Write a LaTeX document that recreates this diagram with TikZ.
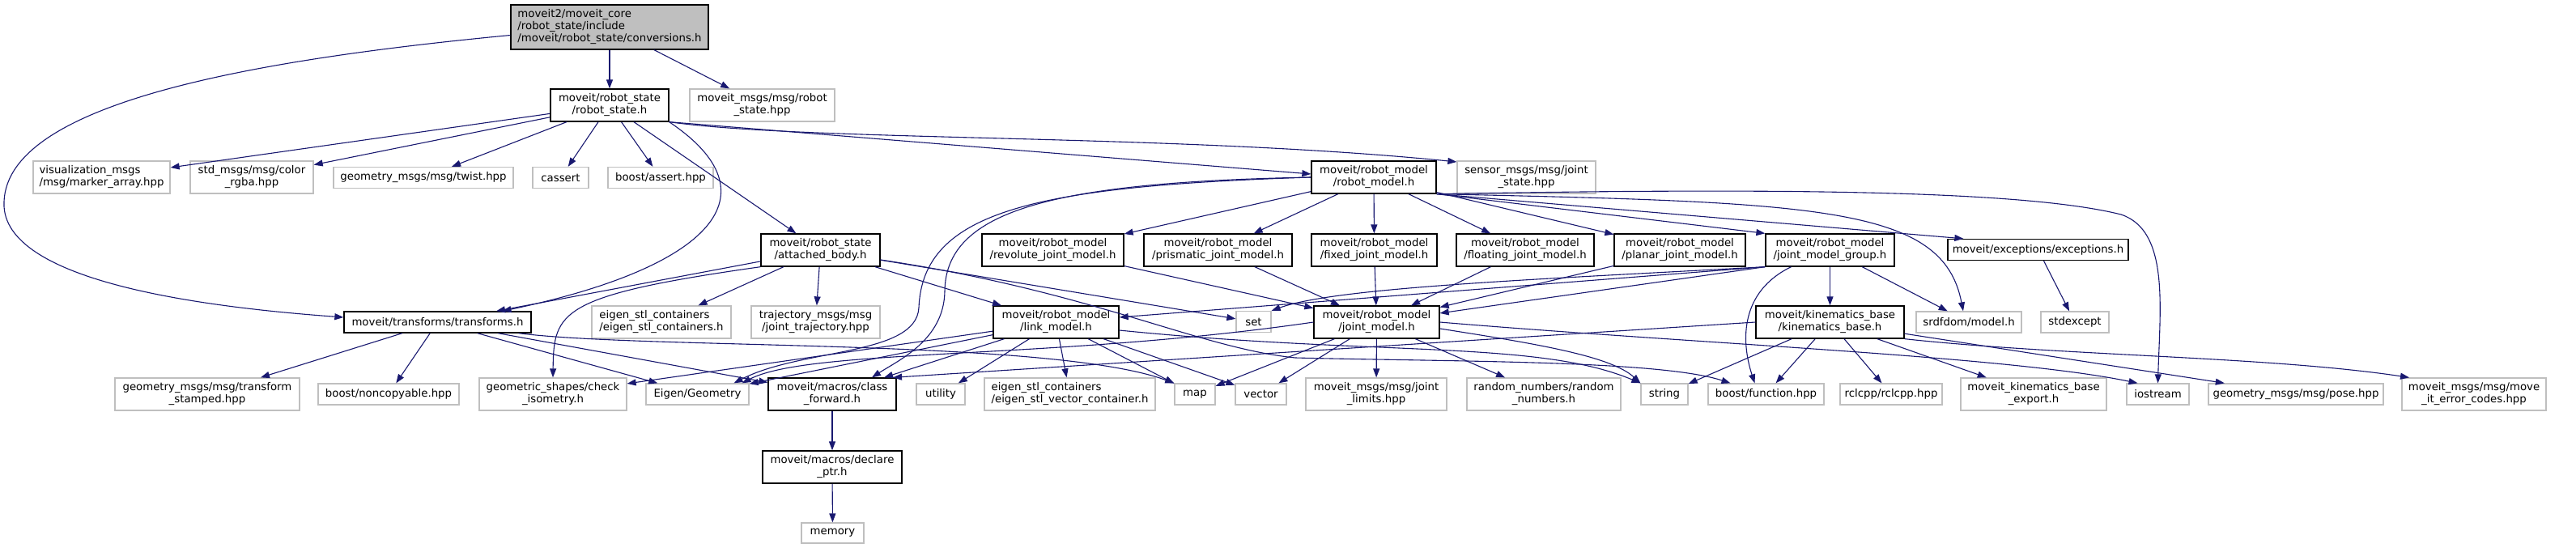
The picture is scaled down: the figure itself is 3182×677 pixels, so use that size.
\documentclass[tikz,border=0pt]{standalone}
\usepackage{fontspec}
\setmainfont{DejaVu Sans}
\usetikzlibrary{arrows.meta}

\definecolor{edgeblue}{HTML}{191970}
\definecolor{grey75}{HTML}{BFBFBF}

\tikzset{
  file/.style={draw=black, line width=1.3pt, align=center, inner sep=2pt,
    minimum height=26pt, font=\fontsize{13.3}{15}\selectfont},
  ext/.style={file, draw=grey75},
  two/.style={minimum height=40pt},
  dep/.style={edgeblue, line width=1.1pt, -{Triangle[length=11pt,width=8pt]}},
}

\begin{document}
\begin{tikzpicture}[x=1pt, y=-1pt]
    \useasboundingbox (0,0) rectangle (3182,677);

    % -------------------------------
    % files
    % -------------------------------
    \node[file, fill=grey75, align=left, minimum width=244pt, minimum height=55pt] (conv) at (753,33.5)
        {moveit2/moveit\_core\\/robot\_state/include\\/moveit/robot\_state/conversions.h};

    \node[file, two, minimum width=146pt] (rsh) at (753,130) {moveit/robot\_state\\/robot\_state.h};
    \node[ext, two, minimum width=179pt] (rsmsg) at (941.5,130) {moveit\_msgs/msg/robot\\\_state.hpp};

    \node[ext, two, align=left, minimum width=169pt] (markers) at (125.5,219) {visualization\_msgs\\/msg/marker\_array.hpp};
    \node[ext, two, minimum width=152pt] (rgba) at (311,219) {std\_msgs/msg/color\\\_rgba.hpp};
    \node[ext, minimum width=222pt] (twist) at (523,219.5) {geometry\_msgs/msg/twist.hpp};
    \node[ext, minimum width=69pt] (cassert) at (692.5,219.5) {cassert};
    \node[ext, minimum width=130pt] (bassert) at (816,219.5) {boost/assert.hpp};
    \node[file, two, minimum width=154pt] (rm) at (1697,219) {moveit/robot\_model\\/robot\_model.h};
    \node[ext, two, minimum width=171pt] (jstate) at (1885.5,219) {sensor\_msgs/msg/joint\\\_state.hpp};

    \node[file, two, minimum width=147pt] (ab) at (1013.5,309) {moveit/robot\_state\\/attached\_body.h};
    \node[file, two, minimum width=175pt] (revolute) at (1300.5,309) {moveit/robot\_model\\/revolute\_joint\_model.h};
    \node[file, two, minimum width=183pt] (prismatic) at (1504.5,309) {moveit/robot\_model\\/prismatic\_joint\_model.h};
    \node[file, two, minimum width=155pt] (fixed) at (1697.5,309) {moveit/robot\_model\\/fixed\_joint\_model.h};
    \node[file, two, minimum width=170pt] (floating) at (1884,309) {moveit/robot\_model\\/floating\_joint\_model.h};
    \node[file, two, minimum width=162pt] (planar) at (2075,309) {moveit/robot\_model\\/planar\_joint\_model.h};
    \node[file, two, minimum width=159pt] (jmg) at (2260.5,309) {moveit/robot\_model\\/joint\_model\_group.h};
    \node[file, minimum width=223pt] (exc) at (2517.5,308.5) {moveit/exceptions/exceptions.h};

    \node[file, minimum width=231pt] (tf) at (540.5,398) {moveit/transforms/transforms.h};
    \node[ext, two, align=left, minimum width=172pt] (esc) at (817,398) {eigen\_stl\_containers\\/eigen\_stl\_containers.h};
    \node[ext, two, minimum width=159pt] (traj) at (1007.5,398) {trajectory\_msgs/msg\\/joint\_trajectory.hpp};
    \node[file, two, minimum width=155pt] (lm) at (1304.5,398) {moveit/robot\_model\\/link\_model.h};
    \node[ext, minimum width=43pt] (stdset) at (1548.5,397.5) {set};
    \node[file, two, minimum width=155pt] (jm) at (1700.5,398) {moveit/robot\_model\\/joint\_model.h};
    \node[file, two, minimum width=183pt] (kb) at (2260.5,398) {moveit/kinematics\_base\\/kinematics\_base.h};
    \node[ext, minimum width=130pt] (srdf) at (2432,398) {srdfdom/model.h};
    \node[ext, minimum width=84pt] (stdexc) at (2563,398) {stdexcept};

    \node[ext, two, minimum width=228pt] (tfst) at (256,487) {geometry\_msgs/msg/transform\\\_stamped.hpp};
    \node[ext, minimum width=174pt] (noncopy) at (480,487) {boost/noncopyable.hpp};
    \node[ext, two, minimum width=182pt] (iso) at (683,487) {geometric\_shapes/check\\\_isometry.h};
    \node[ext, minimum width=127pt] (eigeo) at (861.5,487) {Eigen/Geometry};
    \node[file, two, minimum width=158pt] (cf) at (1028,487) {moveit/macros/class\\\_forward.h};
    \node[ext, minimum width=60pt] (utility) at (1162,487) {utility};
    \node[ext, two, align=left, minimum width=211pt] (esvc) at (1321.5,487) {eigen\_stl\_containers\\/eigen\_stl\_vector\_container.h};
    \node[ext, minimum width=50pt] (stdmap) at (1476,487) {map};
    \node[ext, minimum width=63pt] (stdvec) at (1557.5,487) {vector};
    \node[ext, two, minimum width=174pt] (jlim) at (1700,487) {moveit\_msgs/msg/joint\\\_limits.hpp};
    \node[ext, two, minimum width=190pt] (rnum) at (1907,487) {random\_numbers/random\\\_numbers.h};
    \node[ext, minimum width=58pt] (stdstr) at (2056,487) {string};
    \node[ext, minimum width=143pt] (bfunc) at (2181.5,487) {boost/function.hpp};
    \node[ext, minimum width=126pt] (rclcpp) at (2336,487) {rclcpp/rclcpp.hpp};
    \node[ext, two, minimum width=180pt] (kbexp) at (2512,487) {moveit\_kinematics\_base\\\_export.h};
    \node[ext, minimum width=77pt] (stdio) at (2665.5,487) {iostream};
    \node[ext, minimum width=216pt] (pose) at (2836,487) {geometry\_msgs/msg/pose.hpp};
    \node[ext, two, minimum width=178pt] (errc) at (3056,487) {moveit\_msgs/msg/move\\\_it\_error\_codes.hpp};

    \node[file, two, minimum width=172pt] (dp) at (1028,577) {moveit/macros/declare\\\_ptr.h};
    \node[ext, minimum width=77pt, minimum height=25pt] (stdmem) at (1028.5,658.5) {memory};

    % -------------------------------
    % conversions.h
    % -------------------------------
    \draw[dep] (conv) -- (rsh);
    \draw[dep] (conv) -- (rsmsg);
    \draw[dep] ([yshift=-10pt]conv.west) .. controls (300,75) and (0,130) .. (5,255)
        .. controls (10,350) and (260,380) .. ([yshift=6pt]tf.west);

    % -------------------------------
    % robot_state.h
    % -------------------------------
    \foreach \m in {markers,rgba,twist,cassert,bassert} {
        \draw[dep] (rsh) -- (\m);
    }
    \draw[dep] (rsh) -- (ab);
    \draw[dep] (rsh.south east) -- ([yshift=4pt]rm.west);
    \draw[dep] (rsh.south east) .. controls (1000,175) and (1450,165) .. ([yshift=19pt]jstate.west);
    \draw[dep] (rsh.south east) .. controls (960,240) and (880,330) .. ([xshift=80pt]tf.north);

    % -------------------------------
    % attached_body.h
    % -------------------------------
    \draw[dep] (ab) -- (tf);
    \draw[dep] (ab.south west) .. controls (690,365) and (684,385) .. (iso.north);
    \draw[dep] (ab) -- (esc);
    \draw[dep] (ab) -- (traj);
    \draw[dep] (ab) -- (lm);
    \draw[dep] (ab) -- (stdset);
    \draw[dep] ([yshift=-12pt]ab.east) .. controls (1350,360) and (1480,430) .. (1600,442)
        .. controls (1800,447) and (2050,445) .. ([xshift=-44pt]bfunc.north);

    % -------------------------------
    % robot_model.h
    % -------------------------------
    \foreach \j in {revolute,prismatic,fixed,floating,planar} {
        \draw[dep] (rm) -- (\j);
        \draw[dep] (\j) -- (jm);
    }
    \draw[dep] (rm.south east) -- (jmg.north west);
    \draw[dep] (rm.south east) -- ([xshift=20pt]exc.north west);
    \draw[dep] (rm.south east) .. controls (2250,250) and (2400,255) .. ([xshift=-7pt]srdf.north);
    \draw[dep] (rm.south east) .. controls (2200,232) and (2500,235) .. (2620,265)
        .. controls (2680,285) and (2668,380) .. (stdio.north);
    \draw[dep] (rm.west) .. controls (1300,225) and (1168,260) .. (1167,360)
        .. controls (1166,420) and (1110,445) .. ([xshift=49pt]cf.north);
    \draw[dep] (rm.west) .. controls (1280,230) and (1140,260) .. (1135,380)
        .. controls (1132,440) and (990,430) .. ([xshift=45pt]eigeo.north);

    % -------------------------------
    % joint_model_group.h
    % -------------------------------
    \draw[dep] (jmg.south west) -- (jm);
    \draw[dep] (jmg.south west) -- (lm);
    \draw[dep] (jmg.south west) .. controls (1900,345) and (1650,355) .. (stdset.north east);
    \draw[dep] (jmg) -- (kb);
    \draw[dep] (jmg) -- (srdf);
    \draw[dep] ([xshift=-48pt]jmg.south) .. controls (2150,360) and (2150,420) .. ([xshift=-14pt]bfunc.north);

    \draw[dep] (exc) -- (stdexc);

    % -------------------------------
    % transforms.h
    % -------------------------------
    \foreach \t in {tfst,noncopy,eigeo,cf} {
        \draw[dep] (tf) -- (\t);
    }
    \draw[dep] ([xshift=100pt]tf.south) .. controls (800,432) and (1300,418) .. (stdmap.north west);

    % -------------------------------
    % link_model.h
    % -------------------------------
    \foreach \l in {iso,eigeo,cf,utility,esvc,stdmap,stdvec} {
        \draw[dep] (lm) -- (\l);
    }
    \draw[dep] ([yshift=-10pt]lm.east) .. controls (1700,440) and (1900,420) .. (stdstr.north west);

    % -------------------------------
    % joint_model.h
    % -------------------------------
    \foreach \l in {stdmap,stdvec,jlim,rnum} {
        \draw[dep] (jm) -- (\l);
    }
    \draw[dep] ([yshift=-8pt]jm.east) .. controls (1900,425) and (1990,440) .. (stdstr.north west);
    \draw[dep] (jm.east) .. controls (2100,425) and (2480,440) .. ([xshift=-25pt]stdio.north);
    \draw[dep] (jm.west) .. controls (1300,445) and (1000,430) .. ([xshift=55pt]eigeo.north);

    % -------------------------------
    % kinematics_base.h
    % -------------------------------
    \foreach \k in {stdstr,bfunc,rclcpp,kbexp,pose} {
        \draw[dep] (kb) -- (\k);
    }
    \draw[dep] (kb.west) -- ([xshift=75pt]cf.north);
    \draw[dep] (kb.south east) .. controls (2550,440) and (2800,440) .. ([xshift=-80pt]errc.north);

    % -------------------------------
    % macros
    % -------------------------------
    \draw[dep] (cf) -- (dp);
    \draw[dep] (dp) -- (stdmem);

\end{tikzpicture}
\end{document}
